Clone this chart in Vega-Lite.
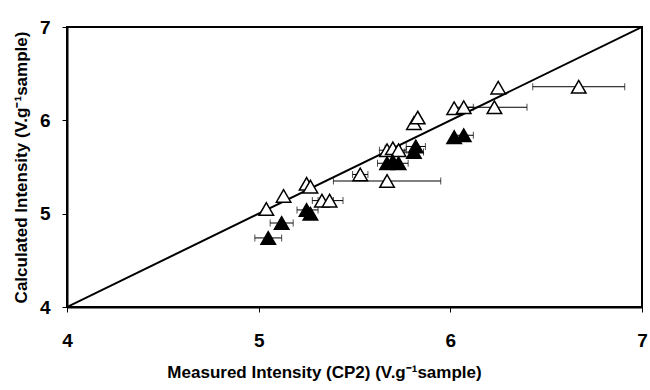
{
  "$schema": "https://vega.github.io/schema/vega-lite/v6.json",
  "width": 575,
  "height": 280,
  "autosize": {"type": "none"},
  "padding": {"left": 67, "top": 27, "right": 8, "bottom": 83},
  "background": "white",
  "config": {
    "font": "Liberation Sans",
    "view": {"stroke": "black", "strokeWidth": 2},
    "axis": {
      "grid": false,
      "domainColor": "black",
      "domainWidth": 2,
      "tickColor": "black",
      "tickWidth": 1,
      "tickSize": 5,
      "format": "d",
      "labelFlush": false,
      "labelFont": "Liberation Sans",
      "labelFontSize": 19,
      "labelFontWeight": "bold",
      "labelColor": "black",
      "titleFont": "Liberation Sans",
      "titleFontSize": 17,
      "titleFontWeight": "bold",
      "titleColor": "black"
    }
  },
  "datasets": {
    "pts": [
      {"x": 5.04, "y": 5.05, "type": "open"},
      {"x": 5.13, "y": 5.19, "type": "open"},
      {"x": 5.25, "y": 5.32, "type": "open"},
      {"x": 5.27, "y": 5.29, "type": "open"},
      {"x": 5.33, "y": 5.14, "type": "open", "xlo": 5.28, "xhi": 5.39},
      {"x": 5.37, "y": 5.14, "type": "open", "xlo": 5.31, "xhi": 5.44},
      {"x": 5.53, "y": 5.42, "type": "open", "xlo": 5.49, "xhi": 5.57},
      {"x": 5.67, "y": 5.35, "type": "open", "xlo": 5.39, "xhi": 5.95},
      {"x": 5.67, "y": 5.68, "type": "open", "xlo": 5.63, "xhi": 5.71},
      {"x": 5.70, "y": 5.70, "type": "open", "xlo": 5.66, "xhi": 5.74},
      {"x": 5.73, "y": 5.68, "type": "open", "xlo": 5.69, "xhi": 5.77},
      {"x": 5.81, "y": 5.97, "type": "open"},
      {"x": 5.83, "y": 6.03, "type": "open"},
      {"x": 6.02, "y": 6.13, "type": "open"},
      {"x": 6.07, "y": 6.14, "type": "open", "xlo": 6.02, "xhi": 6.12},
      {"x": 6.23, "y": 6.14, "type": "open", "xlo": 6.08, "xhi": 6.40},
      {"x": 6.25, "y": 6.35, "type": "open"},
      {"x": 6.67, "y": 6.36, "type": "open", "xlo": 6.43, "xhi": 6.91},
      {"x": 5.05, "y": 4.74, "type": "filled", "xlo": 4.98, "xhi": 5.12},
      {"x": 5.12, "y": 4.90, "type": "filled", "xlo": 5.06, "xhi": 5.18},
      {"x": 5.25, "y": 5.04, "type": "filled", "xlo": 5.20, "xhi": 5.31},
      {"x": 5.27, "y": 5.00, "type": "filled"},
      {"x": 5.67, "y": 5.54, "type": "filled", "xlo": 5.62, "xhi": 5.72},
      {"x": 5.70, "y": 5.56, "type": "filled"},
      {"x": 5.73, "y": 5.54, "type": "filled", "xlo": 5.69, "xhi": 5.78},
      {"x": 5.82, "y": 5.72, "type": "filled", "xlo": 5.77, "xhi": 5.87},
      {"x": 5.81, "y": 5.66, "type": "filled", "xlo": 5.76, "xhi": 5.86},
      {"x": 6.02, "y": 5.82, "type": "filled"},
      {"x": 6.07, "y": 5.84, "type": "filled", "xlo": 6.02, "xhi": 6.12}
    ],
    "diag": [
      {"x": 4, "y": 4},
      {"x": 7, "y": 7}
    ]
  },
  "layer": [
    {
      "data": {"name": "diag"},
      "mark": {"type": "line", "color": "black", "strokeWidth": 2, "clip": true},
      "encoding": {
        "x": {
          "field": "x", "type": "quantitative",
          "scale": {"domain": [4, 7], "nice": false},
          "axis": {"values": [4, 5, 6, 7], "labelPadding": 19, "title": "Measured Intensity (CP2) (V.g⁻¹sample)", "titlePadding": 14, "titleX": 257}
        },
        "y": {
          "field": "y", "type": "quantitative",
          "scale": {"domain": [4, 7], "nice": false},
          "axis": {"values": [4, 5, 6, 7], "labelPadding": 12, "title": "Calculated Intensity (V.g⁻¹sample)", "titlePadding": 9}
        }
      }
    },
    {
      "data": {"name": "pts"},
      "transform": [{"filter": "isValid(datum.xlo)"}],
      "mark": {"type": "rule", "color": "black", "strokeWidth": 1},
      "encoding": {
        "x": {"field": "xlo", "type": "quantitative"},
        "x2": {"field": "xhi"},
        "y": {"field": "y", "type": "quantitative"}
      }
    },
    {
      "data": {"name": "pts"},
      "transform": [{"filter": "isValid(datum.xlo)"}],
      "mark": {"type": "tick", "color": "black", "thickness": 1, "size": 7, "orient": "vertical"},
      "encoding": {
        "x": {"field": "xlo", "type": "quantitative"},
        "y": {"field": "y", "type": "quantitative"}
      }
    },
    {
      "data": {"name": "pts"},
      "transform": [{"filter": "isValid(datum.xlo)"}],
      "mark": {"type": "tick", "color": "black", "thickness": 1, "size": 7, "orient": "vertical"},
      "encoding": {
        "x": {"field": "xhi", "type": "quantitative"},
        "y": {"field": "y", "type": "quantitative"}
      }
    },
    {
      "data": {"name": "pts"},
      "mark": {"type": "point", "shape": "triangle-up", "size": 210, "filled": true, "opacity": 1, "stroke": "black", "strokeWidth": 1.5},
      "encoding": {
        "x": {"field": "x", "type": "quantitative"},
        "y": {"field": "y", "type": "quantitative"},
        "fill": {
          "field": "type", "type": "nominal",
          "scale": {"domain": ["open", "filled"], "range": ["white", "black"]},
          "legend": null
        }
      }
    }
  ]
}
